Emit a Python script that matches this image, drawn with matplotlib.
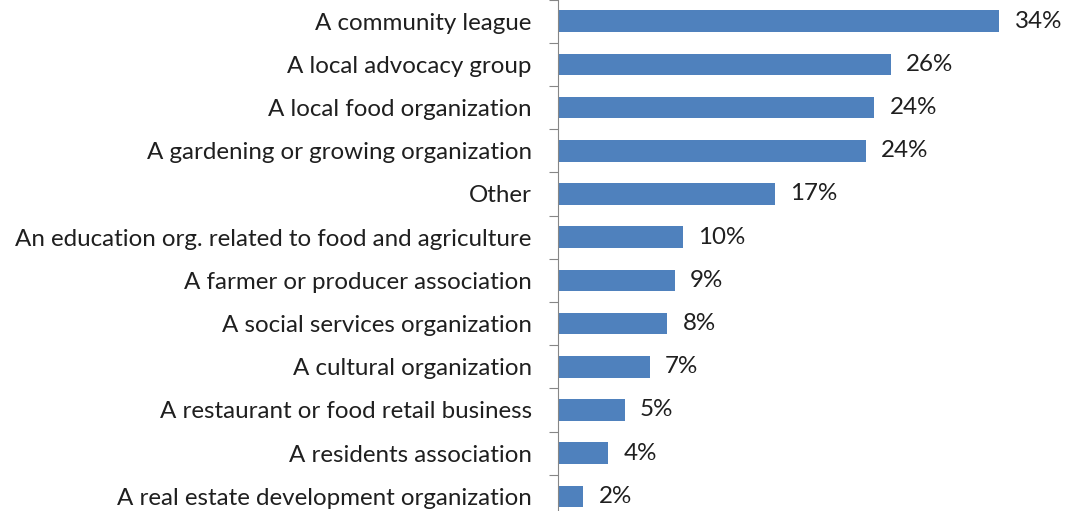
import matplotlib
matplotlib.use("Agg")
import matplotlib.pyplot as plt
import numpy as np

categories = [
    "A community league",
    "A local advocacy group",
    "A local food organization",
    "A gardening or growing organization",
    "Other",
    "An education org. related to food and agriculture",
    "A farmer or producer association",
    "A social services organization",
    "A cultural organization",
    "A restaurant or food retail business",
    "A residents association",
    "A real estate development organization",
]
values = [34.04, 25.67, 24.41, 23.74, 16.73, 9.65, 9.05, 8.46, 7.10, 5.18, 3.91, 1.99]

W, H, DPI = 1067, 511, 100
plt.rcParams['font.family'] = ['Lato', 'DejaVu Sans']
fig = plt.figure(figsize=(W / DPI, H / DPI), dpi=DPI)

# axes placement in pixels
left_px = 557.5
top_px = -0.5
bottom_px = 518.0
px_per_unit = 12.98
xmax = 40
ax = fig.add_axes([left_px / W, (H - bottom_px) / H,
                   xmax * px_per_unit / W, (bottom_px - top_px) / H])

y = np.arange(len(categories))
bar_color = "#4F81BD"
ax.barh(y, values, height=0.5, color=bar_color, edgecolor="none", zorder=2)
ax.set_xlim(0, xmax)
ax.set_ylim(len(categories) - 0.5, -0.5)

# fit font size so longest label spans ~519 px
fs = 16.0
renderer = fig.canvas.get_renderer()
t = fig.text(0, 0, categories[5], fontsize=fs)
w = t.get_window_extent(renderer).width
fs = fs * 519.0 / w
t.remove()

text_color = "#1f1f1f"
ax.set_yticks(y)
ax.set_yticklabels(categories, fontsize=fs, color=text_color)
ax.set_yticks(np.arange(len(categories) + 1) - 0.5, minor=True)
ax.tick_params(axis='y', which='major', length=0, pad=18.5)
ax.tick_params(axis='y', which='minor', length=6.5, width=0.8, color="#868686", direction='out')
ax.set_xticks([])

for s in ["top", "right", "bottom"]:
    ax.spines[s].set_visible(False)
ax.spines["left"].set_color("#868686")
ax.spines["left"].set_linewidth(0.8)
ax.spines["left"].set_zorder(3)

for yi, v in zip(y, values):
    ax.annotate(f"{round(v)}%", xy=(v, yi), xytext=(11, 0), textcoords="offset points",
                ha="left", va="center", fontsize=fs, color=text_color, annotation_clip=False)

fig.savefig("out.png", dpi=DPI)
